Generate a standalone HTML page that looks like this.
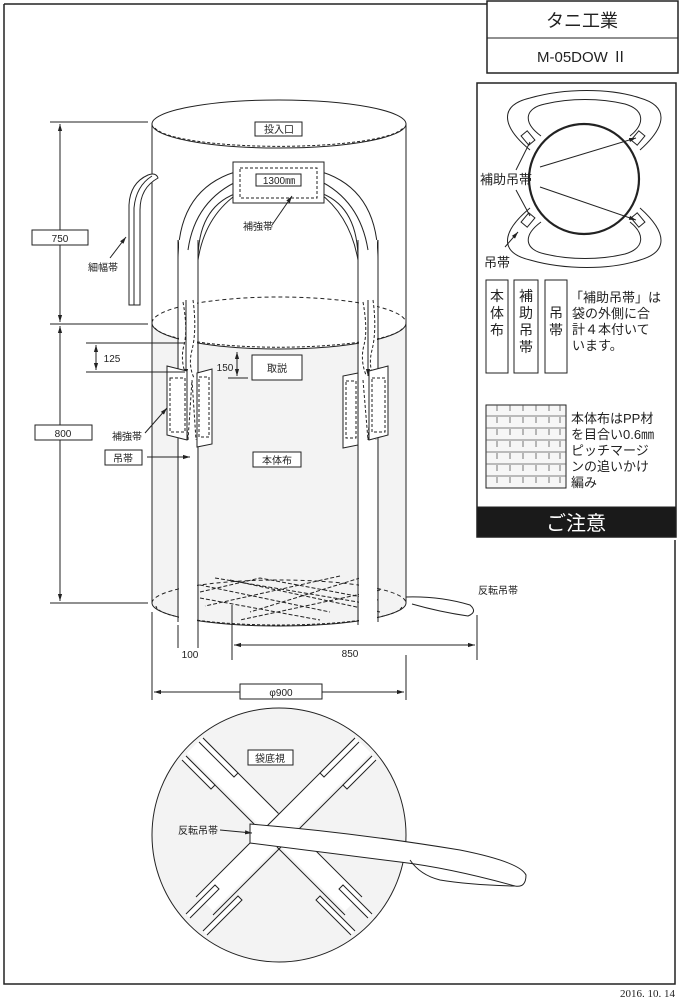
<!DOCTYPE html>
<html><head><meta charset="utf-8"><style>
html,body{margin:0;padding:0;background:#fff}
svg{display:block}
text{font-family:"Liberation Sans","Noto Sans CJK JP",sans-serif;fill:#222}
</style></head><body>
<svg width="683" height="1000" viewBox="0 0 683 1000" xmlns="http://www.w3.org/2000/svg">
<defs>
<marker id="ar" viewBox="0 0 10 10" refX="10" refY="5" markerWidth="7" markerHeight="7" orient="auto-start-reverse"><path d="M0,2 L10,5 L0,8z" fill="#222"/></marker>
</defs>
<g stroke="#222" fill="none" stroke-width="1">
<!-- outer frame -->
<path d="M4,4 H487 M4,4 V984 H675 V540" stroke-width="1.5"/>
<!-- title box -->
<rect x="487" y="1" width="191" height="72" fill="#fff" stroke-width="1.5"/>
<line x1="487" y1="38" x2="678" y2="38"/>
<!-- right panel -->
<rect x="477" y="83" width="199" height="454" fill="#fff" stroke-width="1.5"/>
<rect x="477" y="507" width="199" height="30" fill="#1a1a1a"/>

<!-- bag body shading -->
<path d="M152,323 A127,26 0 0 0 406,323 V603 A127,23 0 0 1 152,603 Z" fill="#f3f3f3" stroke="none"/>
<line x1="152" y1="124" x2="152" y2="603"/>
<line x1="406" y1="124" x2="406" y2="603"/>
<ellipse cx="279" cy="124" rx="127" ry="24" fill="#fff"/>
<path d="M155,128 A125,21 0 0 0 403,128" stroke-dasharray="3,2"/>
<!-- middle ellipse -->
<path d="M152,323 A127,26 0 0 1 406,323" stroke-dasharray="4,3"/>
<path d="M152,323 A127,26 0 0 0 406,323"/>
<path d="M155,328 A125,22 0 0 0 403,328" stroke-dasharray="3,2"/>
<!-- bottom ellipse -->
<path d="M152,603 A127,23 0 0 1 406,603" stroke-dasharray="4,3"/>
<path d="M152,603 A127,23 0 0 0 406,603"/>
<path d="M156,606 A123,19 0 0 0 402,606" stroke-dasharray="3,2"/>
<!-- bottom crosshatch dashed -->
<g stroke-dasharray="4,2">
<path d="M200,585 L330,612 M200,598 L320,620 M230,580 L380,612 M360,578 L250,612 M380,590 L240,620 M340,576 L205,606 M215,578 L370,604 M200,592 L260,578 L378,600"/>
</g>
<!-- straps -->
<path d="M178,620 V260 Q178,190 235,172 M198,625 V260 Q198,205 240,192" fill="none"/>
<path d="M378,620 V260 Q378,190 322,172 M358,625 V260 Q358,205 318,192"/>
<rect x="179" y="240" width="18" height="384" fill="#fff" stroke="none"/>
<rect x="359" y="240" width="18" height="384" fill="#fff" stroke="none"/>
<line x1="178" y1="240" x2="178" y2="622"/><line x1="198" y1="240" x2="198" y2="625"/>
<line x1="358" y1="240" x2="358" y2="625"/><line x1="378" y1="240" x2="378" y2="622"/>
<path d="M198,260 Q205,215 240,192 M358,260 Q350,215 318,192"/>
<path d="M188,250 Q195,200 240,180 M368,250 Q360,200 318,180"/>
<!-- strap dashed lengths -->
<g stroke-dasharray="3,2">
<path d="M183,302 Q188,330 184,345 Q180,360 186,375 M193,300 Q197,330 192,350 Q188,365 194,378"/>
<path d="M363,302 Q368,330 364,345 Q360,360 366,375 M373,300 Q377,330 372,350 Q368,365 374,378"/>
<path d="M183,380 L188,440 L192,380 L196,440 M363,380 L368,440 L372,380 L376,440"/>
</g>
<line x1="186" y1="300" x2="186" y2="376" marker-end="url(#ar)"/>
<line x1="368" y1="300" x2="368" y2="376" marker-end="url(#ar)"/>
<!-- side patches -->
<path d="M167,366 L187,371 V440 L167,435 Z" fill="#fff"/>
<path d="M197,373 L212,369 V444 L197,447 Z" fill="#fff"/>
<path d="M170,378 H185 V432 H170 Z M199,377 H209 V437 H199 Z" stroke-dasharray="3,2"/>
<path d="M388,366 L369,371 V440 L388,435 Z" fill="#fff"/>
<path d="M358,373 L343,376 V448 L358,445 Z" fill="#fff"/>
<path d="M372,378 H385 V432 H372 Z M346,381 H356 V438 H346 Z" stroke-dasharray="3,2"/>
<!-- top box -->
<rect x="233" y="162" width="91" height="41" fill="#fff"/>
<rect x="240" y="168" width="77" height="30" stroke-dasharray="3,2"/>
<rect x="256" y="174" width="45" height="12" fill="#fff"/>
<line x1="272" y1="225" x2="292" y2="196" marker-end="url(#ar)"/>
<!-- top label box -->
<rect x="255" y="122" width="47" height="14" fill="#fff"/>
<!-- 細幅帯 -->
<path d="M129,305 V205 Q130,183 148,175 Q156,172 158,178 Q140,188 140,210 V305 Z" fill="#fff"/>
<path d="M134,305 V208 Q136,186 152,176"/>
<line x1="110" y1="258" x2="126" y2="237" marker-end="url(#ar)"/>
<!-- dimension verticals -->
<line x1="50" y1="122" x2="148" y2="122"/>
<line x1="50" y1="324" x2="148" y2="324"/>
<line x1="50" y1="603" x2="148" y2="603"/>
<line x1="60" y1="124" x2="60" y2="322" marker-start="url(#ar)" marker-end="url(#ar)"/>
<line x1="60" y1="326" x2="60" y2="601" marker-start="url(#ar)" marker-end="url(#ar)"/>
<rect x="32" y="230" width="56" height="15" fill="#fff"/>
<rect x="35" y="425" width="57" height="15" fill="#fff"/>
<!-- 125 -->
<line x1="86" y1="343" x2="185" y2="343"/>
<line x1="86" y1="372" x2="185" y2="372"/>
<line x1="96" y1="345" x2="96" y2="370" marker-start="url(#ar)" marker-end="url(#ar)"/>
<!-- 150 -->
<line x1="237" y1="352" x2="237" y2="376" marker-start="url(#ar)" marker-end="url(#ar)"/>
<line x1="228" y1="378" x2="248" y2="378"/>
<rect x="252" y="355" width="50" height="25" fill="#fff"/>
<!-- labels -->
<line x1="145" y1="433" x2="167" y2="408" marker-end="url(#ar)"/>
<rect x="105" y="450" width="37" height="15" fill="#fff"/>
<line x1="147" y1="457" x2="190" y2="457" marker-end="url(#ar)"/>
<rect x="253" y="452" width="48" height="15" fill="#fff"/>
<!-- reversal strap side -->
<path d="M406,597 Q440,596 470,605 Q478,612 468,616 Q440,612 412,604"/>
<!-- bottom dims -->
<line x1="152" y1="612" x2="152" y2="700"/>
<line x1="406" y1="655" x2="406" y2="700"/>
<line x1="178" y1="625" x2="178" y2="648"/>
<line x1="198" y1="625" x2="198" y2="648"/>
<line x1="232" y1="605" x2="232" y2="660"/>
<line x1="477" y1="615" x2="477" y2="660"/>
<line x1="234" y1="645" x2="475" y2="645" marker-start="url(#ar)" marker-end="url(#ar)"/>
<line x1="154" y1="692" x2="404" y2="692" marker-start="url(#ar)" marker-end="url(#ar)"/>
<rect x="240" y="684" width="82" height="15" fill="#fff"/>
<!-- bottom view circle -->
<circle cx="279" cy="835" r="127" fill="#f3f3f3"/>
<g fill="#fff">
<path d="M203,737 L361,895 L345,911 L187,753 Z" stroke="none"/>
<path d="M186,756 L345,915 M203,738 L362,897"/>
<path d="M355,737 L197,895 L213,911 L371,753 Z" stroke="none"/>
<path d="M372,756 L213,915 M355,738 L196,897"/>
<path d="M203,738 L238,773 L234,777 L199,742 M186,756 L215,785 L211,789 L182,760"/>
<path d="M355,738 L320,773 L324,777 L359,742 M372,756 L343,785 L347,789 L376,760"/>
<path d="M186,914 L215,885 L219,889 L190,918 M203,931 L238,896 L242,900 L207,935"/>
<path d="M372,914 L343,885 L339,889 L368,918 M355,931 L320,896 L316,900 L351,935"/>
</g>
<rect x="248" y="750" width="45" height="15" fill="#fff"/>
<path d="M250,824 Q350,832 460,850 Q520,862 526,875 Q526,888 515,886 Q450,868 400,862 Q320,852 250,843 Z" fill="#fff"/>
<path d="M410,860 Q420,875 440,880 Q470,885 515,886" />
<line x1="220" y1="830" x2="252" y2="833" marker-end="url(#ar)"/>
<!-- panel drawing -->
<circle cx="584" cy="179" r="55" stroke-width="2.2"/>
<path d="M530,150 C500,125 500,105 530,98 C565,88 610,88 640,98 C668,106 668,125 640,150"/>
<path d="M541,136 C522,122 525,108 545,104 C570,98 600,98 625,104 C645,110 645,124 630,136"/>
<path d="M530,208 C500,233 500,253 530,260 C565,270 610,270 640,260 C668,252 668,233 640,208"/>
<path d="M541,222 C522,236 525,250 545,254 C570,260 600,260 625,254 C645,248 645,234 630,222"/>
<rect x="524" y="132" width="8" height="12" transform="rotate(-40 528 138)" fill="#fff"/>
<rect x="634" y="132" width="8" height="12" transform="rotate(40 638 138)" fill="#fff"/>
<rect x="524" y="214" width="8" height="12" transform="rotate(40 528 220)" fill="#fff"/>
<rect x="634" y="214" width="8" height="12" transform="rotate(-40 638 220)" fill="#fff"/>
<line x1="516" y1="170" x2="530" y2="142"/>
<line x1="516" y1="190" x2="530" y2="216"/>
<line x1="540" y1="167" x2="636" y2="138" marker-end="url(#ar)"/>
<line x1="540" y1="187" x2="636" y2="220" marker-end="url(#ar)"/>
<line x1="505" y1="247" x2="518" y2="232" marker-end="url(#ar)"/>
<rect x="486" y="280" width="22" height="93"/>
<rect x="514" y="280" width="24" height="93"/>
<rect x="545" y="280" width="22" height="93"/>
<!-- weave texture -->
<rect x="486" y="405" width="80" height="83" fill="#f6f6f6"/>
<g stroke="#555" stroke-width="0.8">
<path d="M486,416 H566 M486,428 H566 M486,440 H566 M486,452 H566 M486,464 H566 M486,476 H566"/>
<path d="M497,405 V488 M510,405 V488 M523,405 V488 M536,405 V488 M549,405 V488 M560,405 V488" stroke-dasharray="6,6"/>
</g>
</g>
<!-- texts -->
<g font-size="10" text-anchor="middle">
<text x="279" y="133">投入口</text>
<text x="279" y="184">1300㎜</text>
<text x="258" y="230">補強帯</text>
<text x="103" y="271">細幅帯</text>
<text x="60" y="242">750</text>
<text x="63" y="437">800</text>
<text x="112" y="362">125</text>
<text x="225" y="371">150</text>
<text x="277" y="372">取説</text>
<text x="127" y="440">補強帯</text>
<text x="123" y="462">吊帯</text>
<text x="277" y="464">本体布</text>
<text x="498" y="594">反転吊帯</text>
<text x="190" y="658">100</text>
<text x="350" y="657">850</text>
<text x="281" y="696">φ900</text>
<text x="270" y="762">袋底視</text>
<text x="198" y="834">反転吊帯</text>
</g>
<text x="582" y="27" font-size="18" text-anchor="middle">タニ工業</text>
<text x="582" y="62" font-size="15" text-anchor="middle">M-05DOW Ⅱ</text>
<text x="480" y="184" font-size="13">補助吊帯</text>
<text x="484" y="267" font-size="13">吊帯</text>
<g font-size="14" text-anchor="middle">
<text x="497" y="301">本</text><text x="497" y="318">体</text><text x="497" y="335">布</text>
<text x="526" y="301">補</text><text x="526" y="318">助</text><text x="526" y="335">吊</text><text x="526" y="352">帯</text>
<text x="556" y="318">吊</text><text x="556" y="335">帯</text>
</g>
<g font-size="13">
<text x="570" y="302">「補助吊帯」は</text>
<text x="572" y="318">袋の外側に合</text>
<text x="572" y="334">計４本付いて</text>
<text x="572" y="350">います。</text>
<text x="571" y="423">本体布はPP材</text>
<text x="571" y="439">を目合い0.6㎜</text>
<text x="571" y="455">ピッチマージ</text>
<text x="571" y="471">ンの追いかけ</text>
<text x="571" y="487">編み</text>
</g>
<text x="576" y="530" font-size="20" text-anchor="middle" style="fill:#fff">ご注意</text>
<text x="675" y="997" font-size="11" text-anchor="end" style="font-family:'Liberation Serif',serif">2016. 10. 14</text>
</svg>
</body></html>
